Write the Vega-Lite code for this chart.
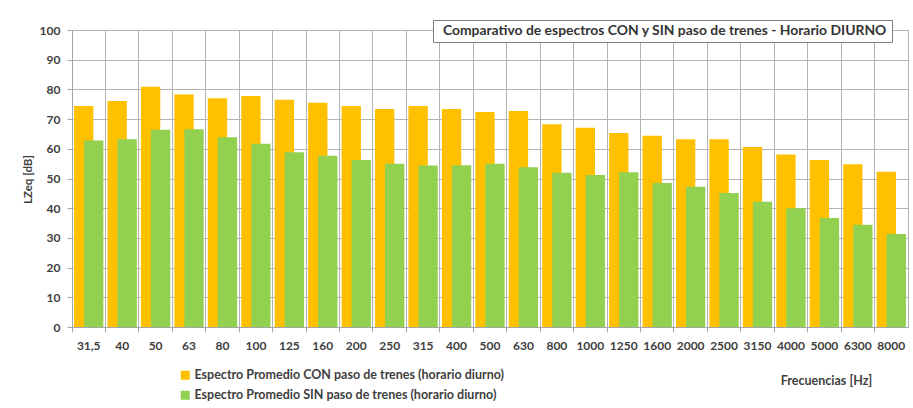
{
  "$schema": "https://vega.github.io/schema/vega-lite/v6.json",
  "width": 836,
  "height": 297,
  "autosize": {"type": "none"},
  "padding": {"left": 72, "top": 30, "right": 5, "bottom": 81},
  "background": "white",
  "config": {
    "font": "Lato",
    "view": {"stroke": "#b3b3b3", "strokeWidth": 1},
    "axis": {"labelFont": "Lato", "titleFont": "Lato"},
    "legend": {"labelFont": "Lato"}
  },
  "data": {
    "values": [
      {"freq": "31,5", "serie": "Espectro Promedio CON paso de trenes (horario diurno)", "lzeq": 74.4},
      {"freq": "40", "serie": "Espectro Promedio CON paso de trenes (horario diurno)", "lzeq": 76.1},
      {"freq": "50", "serie": "Espectro Promedio CON paso de trenes (horario diurno)", "lzeq": 80.9},
      {"freq": "63", "serie": "Espectro Promedio CON paso de trenes (horario diurno)", "lzeq": 78.3},
      {"freq": "80", "serie": "Espectro Promedio CON paso de trenes (horario diurno)", "lzeq": 77.0},
      {"freq": "100", "serie": "Espectro Promedio CON paso de trenes (horario diurno)", "lzeq": 77.8},
      {"freq": "125", "serie": "Espectro Promedio CON paso de trenes (horario diurno)", "lzeq": 76.5},
      {"freq": "160", "serie": "Espectro Promedio CON paso de trenes (horario diurno)", "lzeq": 75.5},
      {"freq": "200", "serie": "Espectro Promedio CON paso de trenes (horario diurno)", "lzeq": 74.4},
      {"freq": "250", "serie": "Espectro Promedio CON paso de trenes (horario diurno)", "lzeq": 73.4},
      {"freq": "315", "serie": "Espectro Promedio CON paso de trenes (horario diurno)", "lzeq": 74.4},
      {"freq": "400", "serie": "Espectro Promedio CON paso de trenes (horario diurno)", "lzeq": 73.4},
      {"freq": "500", "serie": "Espectro Promedio CON paso de trenes (horario diurno)", "lzeq": 72.4},
      {"freq": "630", "serie": "Espectro Promedio CON paso de trenes (horario diurno)", "lzeq": 72.7},
      {"freq": "800", "serie": "Espectro Promedio CON paso de trenes (horario diurno)", "lzeq": 68.3},
      {"freq": "1000", "serie": "Espectro Promedio CON paso de trenes (horario diurno)", "lzeq": 67.1},
      {"freq": "1250", "serie": "Espectro Promedio CON paso de trenes (horario diurno)", "lzeq": 65.3},
      {"freq": "1600", "serie": "Espectro Promedio CON paso de trenes (horario diurno)", "lzeq": 64.4},
      {"freq": "2000", "serie": "Espectro Promedio CON paso de trenes (horario diurno)", "lzeq": 63.2},
      {"freq": "2500", "serie": "Espectro Promedio CON paso de trenes (horario diurno)", "lzeq": 63.2},
      {"freq": "3150", "serie": "Espectro Promedio CON paso de trenes (horario diurno)", "lzeq": 60.6},
      {"freq": "4000", "serie": "Espectro Promedio CON paso de trenes (horario diurno)", "lzeq": 58.1},
      {"freq": "5000", "serie": "Espectro Promedio CON paso de trenes (horario diurno)", "lzeq": 56.2},
      {"freq": "6300", "serie": "Espectro Promedio CON paso de trenes (horario diurno)", "lzeq": 54.8},
      {"freq": "8000", "serie": "Espectro Promedio CON paso de trenes (horario diurno)", "lzeq": 52.3},
      {"freq": "31,5", "serie": "Espectro Promedio SIN paso de trenes (horario diurno)", "lzeq": 62.8},
      {"freq": "40", "serie": "Espectro Promedio SIN paso de trenes (horario diurno)", "lzeq": 63.2},
      {"freq": "50", "serie": "Espectro Promedio SIN paso de trenes (horario diurno)", "lzeq": 66.4},
      {"freq": "63", "serie": "Espectro Promedio SIN paso de trenes (horario diurno)", "lzeq": 66.6},
      {"freq": "80", "serie": "Espectro Promedio SIN paso de trenes (horario diurno)", "lzeq": 63.9},
      {"freq": "100", "serie": "Espectro Promedio SIN paso de trenes (horario diurno)", "lzeq": 61.7},
      {"freq": "125", "serie": "Espectro Promedio SIN paso de trenes (horario diurno)", "lzeq": 58.8},
      {"freq": "160", "serie": "Espectro Promedio SIN paso de trenes (horario diurno)", "lzeq": 57.7},
      {"freq": "200", "serie": "Espectro Promedio SIN paso de trenes (horario diurno)", "lzeq": 56.2},
      {"freq": "250", "serie": "Espectro Promedio SIN paso de trenes (horario diurno)", "lzeq": 55.0},
      {"freq": "315", "serie": "Espectro Promedio SIN paso de trenes (horario diurno)", "lzeq": 54.4},
      {"freq": "400", "serie": "Espectro Promedio SIN paso de trenes (horario diurno)", "lzeq": 54.5},
      {"freq": "500", "serie": "Espectro Promedio SIN paso de trenes (horario diurno)", "lzeq": 55.0},
      {"freq": "630", "serie": "Espectro Promedio SIN paso de trenes (horario diurno)", "lzeq": 53.8},
      {"freq": "800", "serie": "Espectro Promedio SIN paso de trenes (horario diurno)", "lzeq": 51.9},
      {"freq": "1000", "serie": "Espectro Promedio SIN paso de trenes (horario diurno)", "lzeq": 51.2},
      {"freq": "1250", "serie": "Espectro Promedio SIN paso de trenes (horario diurno)", "lzeq": 52.1},
      {"freq": "1600", "serie": "Espectro Promedio SIN paso de trenes (horario diurno)", "lzeq": 48.5},
      {"freq": "2000", "serie": "Espectro Promedio SIN paso de trenes (horario diurno)", "lzeq": 47.2},
      {"freq": "2500", "serie": "Espectro Promedio SIN paso de trenes (horario diurno)", "lzeq": 45.1},
      {"freq": "3150", "serie": "Espectro Promedio SIN paso de trenes (horario diurno)", "lzeq": 42.2},
      {"freq": "4000", "serie": "Espectro Promedio SIN paso de trenes (horario diurno)", "lzeq": 40.0},
      {"freq": "5000", "serie": "Espectro Promedio SIN paso de trenes (horario diurno)", "lzeq": 36.7},
      {"freq": "6300", "serie": "Espectro Promedio SIN paso de trenes (horario diurno)", "lzeq": 34.4},
      {"freq": "8000", "serie": "Espectro Promedio SIN paso de trenes (horario diurno)", "lzeq": 31.3}
    ]
  },
  "encoding": {
    "y": {
      "field": "lzeq",
      "type": "quantitative",
      "scale": {"domain": [0, 100]},
      "axis": {
        "values": [0, 10, 20, 30, 40, 50, 60, 70, 80, 90, 100],
        "grid": true,
        "gridColor": "#b3b3b3",
        "tickSize": 5,
        "tickColor": "#a6a6a6",
        "domainColor": "#a6a6a6",
        "labelPadding": 7,
        "labelFontSize": 12,
        "labelFontWeight": "bold",
        "labelColor": "#404040",
        "title": "LZeq [dB]",
        "titleX": -44,
        "titleY": 149,
        "titleAngle": 270,
        "titleAlign": "center",
        "titleBaseline": "middle",
        "titleFontSize": 11.5,
        "titleFontWeight": "bold",
        "titleColor": "#404040"
      }
    },
    "color": {
      "field": "serie",
      "type": "nominal",
      "scale": {
        "domain": ["Espectro Promedio CON paso de trenes (horario diurno)", "Espectro Promedio SIN paso de trenes (horario diurno)"],
        "range": ["#FFC000", "#92D050"]
      },
      "legend": {
        "orient": "none",
        "legendX": 107,
        "legendY": 339,
        "title": null,
        "padding": 0,
        "symbolType": "square",
        "symbolSize": 81,
        "symbolStrokeWidth": 0,
        "labelOffset": 3,
        "rowPadding": 7,
        "labelFontSize": 12.5,
        "labelFontWeight": "bold",
        "labelColor": "#404040",
        "labelLimit": 1000
      }
    }
  },
  "layer": [
    {
      "transform": [{"filter": {"field": "serie", "equal": "Espectro Promedio CON paso de trenes (horario diurno)"}}],
      "mark": {"type": "bar", "width": {"band": 0.578}, "xOffset": -5},
      "encoding": {
        "x": {
          "field": "freq",
          "type": "nominal",
          "sort": null,
          "scale": {"paddingInner": 0, "paddingOuter": 0},
          "axis": {
            "orient": "bottom",
            "bandPosition": 0,
            "grid": true,
            "gridColor": "#b3b3b3",
            "ticks": true,
            "tickSize": 5,
            "tickColor": "#a6a6a6",
            "domainColor": "#a6a6a6",
            "labels": false,
            "title": null
          }
        }
      }
    },
    {
      "transform": [{"filter": {"field": "serie", "equal": "Espectro Promedio SIN paso de trenes (horario diurno)"}}],
      "mark": {"type": "bar", "width": {"band": 0.578}, "xOffset": 5},
      "encoding": {
        "x": {
          "field": "freq",
          "type": "nominal",
          "sort": null,
          "scale": {"paddingInner": 0, "paddingOuter": 0},
          "axis": {
            "orient": "bottom",
            "grid": false,
            "ticks": false,
            "domain": false,
            "labelAngle": 0,
            "labelPadding": 13,
            "labelFontSize": 12,
            "labelFontWeight": "bold",
            "labelColor": "#404040",
            "title": "Frecuencias [Hz]",
            "titleX": 754,
            "titleY": 53,
            "titleAlign": "center",
            "titleBaseline": "middle",
            "titleFontSize": 12.5,
            "titleFontWeight": "bold",
            "titleColor": "#404040"
          }
        },
        "opacity": {
          "datum": "Comparativo de espectros CON y SIN paso de trenes - Horario DIURNO",
          "type": "ordinal",
          "scale": {"range": [1]},
          "legend": {
            "orient": "none",
            "legendX": 361,
            "legendY": -10,
            "title": null,
            "symbolSize": 0,
            "symbolType": "square",
            "symbolFillColor": "white",
            "symbolStrokeColor": "white",
            "symbolStrokeWidth": 0,
            "labelOffset": -8,
            "labelFontSize": 13.9,
            "labelFontWeight": "bold",
            "labelColor": "#333333",
            "labelLimit": 1000,
            "strokeColor": "#7f7f7f",
            "fillColor": "white",
            "padding": 4
          }
        }
      }
    }
  ],
  "resolve": {"axis": {"x": "independent"}}
}
